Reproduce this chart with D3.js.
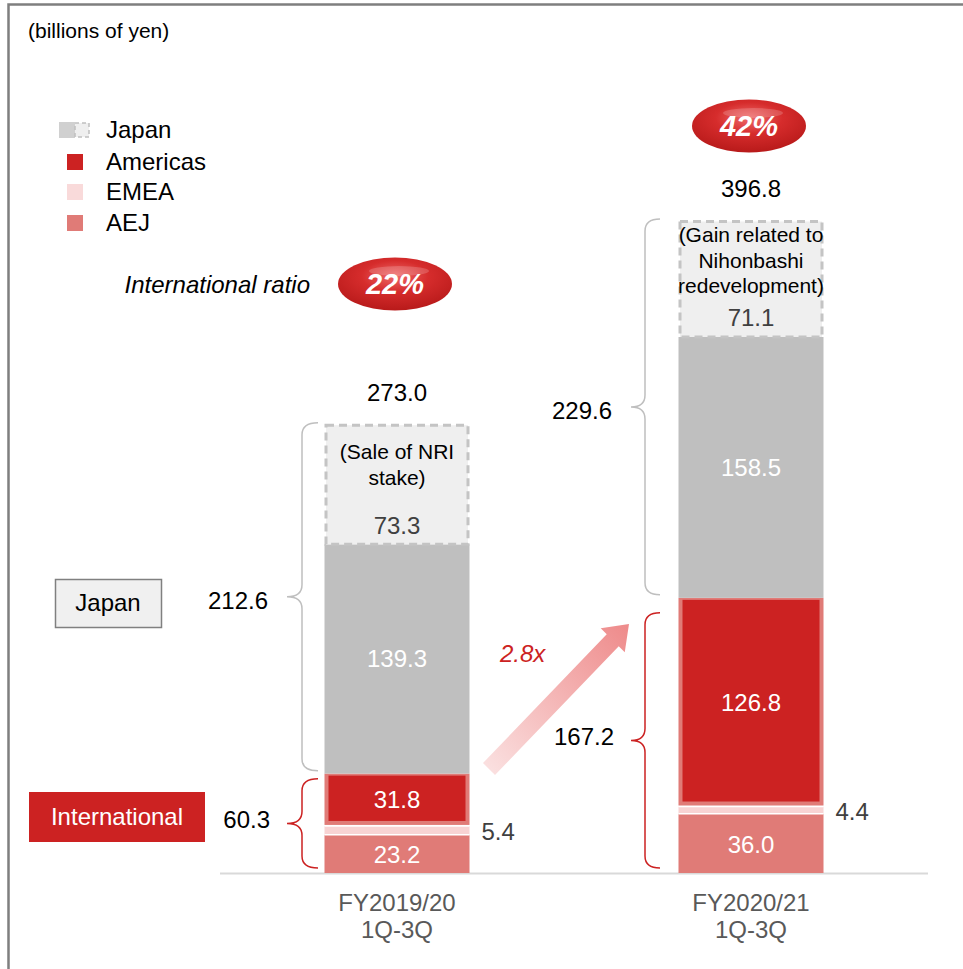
<!DOCTYPE html>
<html>
<head>
<meta charset="utf-8">
<script src="https://cdn.jsdelivr.net/npm/d3@7"></script>
<style>
  body { margin: 0; background: #fff; }
  svg { font-family: "Liberation Sans", Arial, sans-serif; }
</style>
</head>
<body>
<svg id="chart" width="963" height="969"></svg>
<script>
// data
const categories = ['FY2019/20', 'FY2020/21']
const periodLabel = '1Q-3Q'
const aej = [23.2, 36.0]
const emea = [5.4, 4.4]
const americas = [31.8, 126.8]
const japan = [139.3, 158.5]
const gain = [73.3, 71.1]
const totals = [273.0, 396.8]
const japanTotals = [212.6, 229.6]
const intlTotals = [60.3, 167.2]
const intlRatios = ['22%', '42%']
const gainNotes = [['(Sale of NRI', 'stake)'], ['(Gain related to', 'Nihonbashi', 'redevelopment)']]
const growthLabel = '2.8x'
const legendItems = ['Japan', 'Americas', 'EMEA', 'AEJ']

const RED = '#cc2222', RED_LIGHT = '#e07b77', PINK = '#f8d3d3', GRAY = '#bfbfbf'
const FS = 24

const svg = d3.select('#chart')

const x = d3.scalePoint().domain(categories).range([397, 751])
const barW = 145
const y = d3.scaleLinear().domain([0, 396.8]).range([873, 220])

// gradients
const defs = svg.append('defs')
const rg = defs.append('radialGradient').attr('id', 'pill').attr('cx', '50%').attr('cy', '35%').attr('r', '65%')
rg.append('stop').attr('offset', '0%').attr('stop-color', '#ee6a6a')
rg.append('stop').attr('offset', '45%').attr('stop-color', '#d62c2c')
rg.append('stop').attr('offset', '100%').attr('stop-color', '#b81a1a')
const ag = defs.append('linearGradient').attr('id', 'arrowGrad')
  .attr('x1', '0%').attr('y1', '100%').attr('x2', '100%').attr('y2', '0%')
ag.append('stop').attr('offset', '0%').attr('stop-color', '#fbe3e3')
ag.append('stop').attr('offset', '100%').attr('stop-color', '#ee8a8a')

// frame
svg.append('path').attr('d', 'M8.5,969 L8.5,4.5 L963,4.5')
  .attr('fill', 'none').attr('stroke', '#7f7f7f').attr('stroke-width', 2.5)

svg.append('text').attr('x', 28).attr('y', 31).attr('dy', '0.35em').attr('font-size', 21).attr('fill', '#000')
  .text('(billions of yen)')

// legend
const lg = svg.append('g')
lg.append('rect').attr('x', 59).attr('y', 122).attr('width', 16).attr('height', 16).attr('fill', '#d0d0d0')
lg.append('rect').attr('x', 75).attr('y', 123).attr('width', 14).attr('height', 14)
  .attr('fill', '#efefef').attr('stroke', '#c0c0c0').attr('stroke-width', 1.5).attr('stroke-dasharray', '4,3')
const legendColors = [null, RED, '#f9dada', RED_LIGHT]
const legendY = [130, 162, 192, 223]
legendItems.forEach((name, i) => {
  if (legendColors[i]) {
    lg.append('rect').attr('x', 67).attr('y', legendY[i] - 8).attr('width', 16).attr('height', 16)
      .attr('fill', legendColors[i])
  }
  lg.append('text').attr('x', 106).attr('y', legendY[i]).attr('dy', '0.35em')
    .attr('font-size', FS).attr('fill', '#000').text(name)
})

svg.append('text').attr('x', 310).attr('y', 285).attr('dy', '0.35em').attr('text-anchor', 'end')
  .attr('font-size', FS).attr('font-style', 'italic').attr('fill', '#000').text('International ratio')

// ratio pills
const pillPos = [[395, 284], [749, 126]]
intlRatios.forEach((r, i) => {
  const [cx, cy] = pillPos[i]
  svg.append('ellipse').attr('cx', cx).attr('cy', cy).attr('rx', 57).attr('ry', 26.5).attr('fill', 'url(#pill)')
  svg.append('ellipse').attr('cx', cx + 4).attr('cy', cy - 13).attr('rx', 30).attr('ry', 5)
    .attr('fill', '#fff').attr('opacity', 0.18)
  svg.append('text').attr('x', cx).attr('y', cy).attr('dy', '0.35em').attr('text-anchor', 'middle')
    .attr('font-size', 29).attr('font-weight', 'bold').attr('font-style', 'italic').attr('fill', '#fff').text(r)
})

// baseline
svg.append('line').attr('x1', 220).attr('x2', 928).attr('y1', y(0) + 0.5).attr('y2', y(0) + 0.5)
  .attr('stroke', '#d9d9d9').attr('stroke-width', 2)

// bars
const noteTop = [28, 15]
categories.forEach((cat, i) => {
  const g = svg.append('g')
  const x0 = x(cat) - barW / 2
  const b0 = 0, b1 = aej[i], b2 = b1 + emea[i], b3 = b2 + americas[i], b4 = b3 + japan[i], b5 = b4 + gain[i]

  // AEJ
  g.append('rect').attr('x', x0).attr('y', y(b1)).attr('width', barW).attr('height', y(b0) - y(b1)).attr('fill', RED_LIGHT)
  // EMEA
  g.append('rect').attr('x', x0).attr('y', y(b2)).attr('width', barW).attr('height', y(b1) - y(b2))
    .attr('fill', PINK)
  g.append('line').attr('x1', x0).attr('x2', x0 + barW).attr('y1', y(b1)).attr('y2', y(b1)).attr('stroke', '#fff').attr('stroke-width', 1.5)
  g.append('line').attr('x1', x0).attr('x2', x0 + barW).attr('y1', y(b2)).attr('y2', y(b2)).attr('stroke', '#fff').attr('stroke-width', 1.5)
  // Americas with lighter border
  g.append('rect').attr('x', x0).attr('y', y(b3)).attr('width', barW).attr('height', y(b2) - y(b3) - 1).attr('fill', RED_LIGHT)
  g.append('rect').attr('x', x0 + 4).attr('y', y(b3) + 2).attr('width', barW - 8).attr('height', y(b2) - y(b3) - 7).attr('fill', RED)
  // Japan
  g.append('rect').attr('x', x0).attr('y', y(b4)).attr('width', barW).attr('height', y(b3) - y(b4)).attr('fill', GRAY)
  // Gain (dashed)
  g.append('rect').attr('x', x0 + 1.5).attr('y', y(b5) + 1.5).attr('width', barW - 3).attr('height', y(b4) - y(b5) - 1.5)
    .attr('fill', '#efefef').attr('stroke', '#c4c4c4').attr('stroke-width', 3).attr('stroke-dasharray', '8,5')

  const cx = x(cat)
  const label = (yy, txt, col, anchor, xx) => g.append('text').attr('x', xx === undefined ? cx : xx).attr('y', yy)
    .attr('dy', '0.35em').attr('text-anchor', anchor || 'middle').attr('font-size', FS).attr('fill', col).text(txt)

  label(y(b0 + aej[i] / 2) + 1, aej[i].toFixed(1), '#fff')
  label(y(b2 + americas[i] / 2), americas[i].toFixed(1), '#fff')
  label(y(b3 + japan[i] / 2), japan[i].toFixed(1), '#fff')
  label(y(b1 + emea[i] / 2) + 1, emea[i].toFixed(1), '#404040', 'start', x0 + barW + 12)
  label(y(b4) - 19, gain[i].toFixed(1), '#404040')
  gainNotes[i].forEach((ln, k) => label(y(b5) + noteTop[i] + k * 25.5, ln, '#000').attr('font-size', 21))
  label(y(totals[i]) - 31, totals[i].toFixed(1), '#000')

  // category labels
  label(y(0) + 30, cat, '#595959')
  label(y(0) + 57, periodLabel, '#595959')
})

// braces
function brace(xr, xv, xt, y1, y2, r) {
  const ym = (y1 + y2) / 2
  return `M${xr},${y1} Q${xv},${y1} ${xv},${y1 + r} L${xv},${ym - r} Q${xv},${ym} ${xt},${ym}` +
    ` Q${xv},${ym} ${xv},${ym + r} L${xv},${y2 - r} Q${xv},${y2} ${xr},${y2}`
}
const braceX = [[318, 302, 287], [660, 645, 631]]
const braceGap = [[3, 5], [3, 15]]
categories.forEach((cat, i) => {
  const [xr, xv, xt] = braceX[i]
  const yJ1 = y(totals[i]) - 1, yJ2 = y(intlTotals[i]) - braceGap[i][0]
  const yI1 = y(intlTotals[i]) + braceGap[i][1], yI2 = y(0) - 5
  svg.append('path').attr('d', brace(xr, xv, xt, yJ1, yJ2, 12)).attr('fill', 'none').attr('stroke', GRAY).attr('stroke-width', 1.5)
  svg.append('path').attr('d', brace(xr, xv, xt, yI1, yI2, 12)).attr('fill', 'none').attr('stroke', RED).attr('stroke-width', 1.5)
  svg.append('text').attr('x', xt - 19).attr('y', (yJ1 + yJ2) / 2 + 4).attr('dy', '0.35em').attr('text-anchor', 'end')
    .attr('font-size', FS).attr('fill', '#000').text(japanTotals[i].toFixed(1))
  svg.append('text').attr('x', xt - 17).attr('y', (yI1 + yI2) / 2 - 4).attr('dy', '0.35em').attr('text-anchor', 'end')
    .attr('font-size', FS).attr('fill', '#000').text(intlTotals[i].toFixed(1))
})

// side boxes
svg.append('rect').attr('x', 55.5).attr('y', 579.5).attr('width', 106).attr('height', 48)
  .attr('fill', '#f0f0f0').attr('stroke', '#808080').attr('stroke-width', 1.5)
svg.append('text').attr('x', 108).attr('y', 603).attr('dy', '0.35em').attr('text-anchor', 'middle')
  .attr('font-size', FS).attr('fill', '#000').text('Japan')
svg.append('rect').attr('x', 29).attr('y', 792).attr('width', 176).attr('height', 50).attr('fill', RED)
svg.append('text').attr('x', 117).attr('y', 817).attr('dy', '0.35em').attr('text-anchor', 'middle')
  .attr('font-size', FS).attr('fill', '#fff').text('International')

// growth arrow (45 degrees)
const ax0 = 489, ay0 = 769, ax1 = 629, ay1 = 624
const ux = Math.SQRT1_2, uy = -Math.SQRT1_2, px = Math.SQRT1_2, py = Math.SQRT1_2
const sw = 8.5, hw = 17, hl = 23
const bx = ax1 - ux * hl, by = ay1 - uy * hl
const arrowPts = [
  [ax0 - px * sw, ay0 - py * sw], [bx - px * sw, by - py * sw], [bx - px * hw, by - py * hw],
  [ax1, ay1], [bx + px * hw, by + py * hw], [bx + px * sw, by + py * sw], [ax0 + px * sw, ay0 + py * sw]
]
svg.append('path').attr('d', d3.line()(arrowPts) + 'Z').attr('fill', 'url(#arrowGrad)')
svg.append('text').attr('x', 500).attr('y', 654).attr('dy', '0.35em').attr('font-size', FS)
  .attr('font-style', 'italic').attr('fill', RED).text(growthLabel)
</script>
</body>
</html>
